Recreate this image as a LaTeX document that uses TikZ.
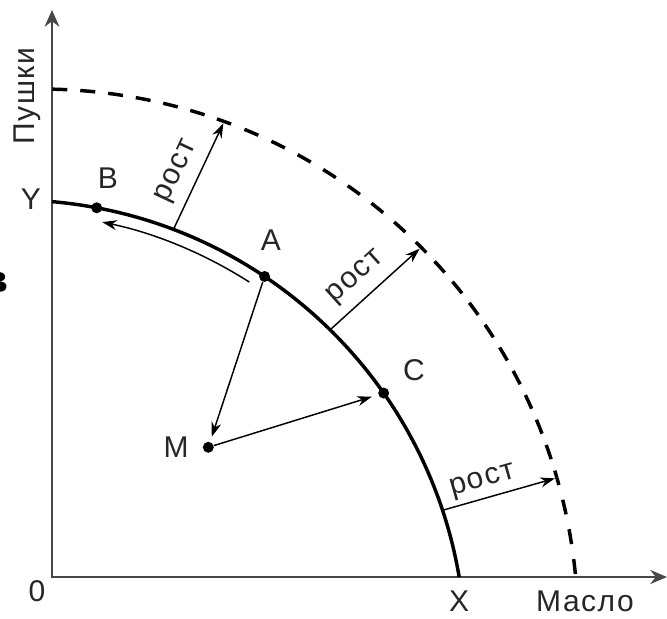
\documentclass[tikz,border=0pt]{standalone}
\usepackage{fontspec}
\setmainfont{Liberation Sans}[LetterSpace=5]
\newfontfamily\serifcyr{Liberation Serif}
\usetikzlibrary{arrows.meta,calc}
\begin{document}
\begin{tikzpicture}[x=0.75pt,y=0.75pt,
  lbl/.style={font=\fontsize{22.5}{27}\selectfont, text=black!85, inner sep=0pt},
  dot/.style={circle, fill=black, inner sep=0pt, minimum size=8.25pt},
  axis/.style={line width=1.9pt, draw=black!72, {Stealth[length=12.5pt,width=11pt]}-{Stealth[length=12.5pt,width=10.5pt]}},
  curve/.style={line width=2.6pt},
  thinarrow/.style={line width=1.1pt, -{Stealth[length=11pt,width=7.5pt]}},
  dsh/.style={line width=2.6pt, dash pattern=on 11.25pt off #1, dash phase=5.625pt},
]
\useasboundingbox (0,0) rectangle (667,618);

% axes
\coordinate (O) at (52,41);
\coordinate (Ytop) at (52,608);
\coordinate (Xend) at (667,41);
\draw[axis] (Ytop) -- (O) -- (Xend);

% centres of the two curves
\coordinate (C1) at (12.6,-34.9);
\coordinate (C2) at (40,-9);

% solid curve
\coordinate (Y) at ($(C1)+(85.01:453)$);
\coordinate (X) at ($(C1)+(9.64:453)$);
\draw[curve] (Y) arc[start angle=85.01, end angle=9.64, radius=453];

% dashed curve (pieces meeting at the arrow tips)
\coordinate (D0) at ($(C2)+(88.72:538)$);
\coordinate (D1) at ($(C2)+(70.0:538)$);
\coordinate (D2) at ($(C2)+(44.9:538)$);
\coordinate (D3) at ($(C2)+(16.1:538)$);
\draw[dsh=9.75pt] (D1) arc[start angle=70.0, end angle=88.72, radius=538];
\draw[dsh=10.85pt] (D1) arc[start angle=70.0, end angle=44.9, radius=538];
\draw[dsh=9.03pt] (D2) arc[start angle=44.9, end angle=16.1, radius=538];
\draw[dsh=11.4pt] (D3) arc[start angle=16.1, end angle=5.33, radius=538];

% points
\node[dot] (B) at ($(C1)+(79.3:453)$) {};
\node[dot] (A) at ($(C1)+(56.2:453)$) {};
\node[dot] (C) at ($(C1)+(35.0:453)$) {};
\node[dot] (M) at (208.3,170.7) {};

% thin arc arrow towards B
\coordinate (T1) at ($(C1)+(57.45:440)$);
\draw[thinarrow] (T1) arc[start angle=57.45, end angle=78.25, radius=440];

% A -> M -> C
\draw[thinarrow, shorten >=4pt] (A) -- (M);
\draw[thinarrow, shorten >=5pt] (M) -- (C);

% growth arrows
\coordinate (g1s) at ($(C1)+(69.2:453)$);
\coordinate (g1e) at ($(C2)+(70.0:536)$);
\coordinate (g2s) at ($(C1)+(45.5:453)$);
\coordinate (g2e) at ($(C2)+(44.9:536)$);
\coordinate (g3s) at ($(C1)+(18.35:453)$);
\coordinate (g3e) at ($(C2)+(16.1:536)$);
\draw[thinarrow] (g1s) -- node[lbl, sloped, pos=.46, anchor=base, yshift=12pt] (r1) {рост} (g1e);
\draw[thinarrow] (g2s) -- node[lbl, sloped, pos=.45, anchor=base, yshift=12pt] (r2) {рост} (g2e);
\draw[thinarrow] (g3s) -- node[lbl, sloped, pos=.40, anchor=base, yshift=8.5pt] (r3) {рост} (g3e);

% labels
\node[lbl, rotate=90] (ylab) at (27,522) {Пушки};
\node[lbl] (lY) at (31,419) {Y};
\node[lbl] (lB) at (108,440) {B};
\node[lbl] (lA) at (271,378) {A};
\node[lbl] (lC) at (414,248) {C};
\node[lbl] (lM) at (176,171) {M};
\node[lbl] (l0) at (37,27) {0};
\node[lbl] (lX) at (459,17) {X};
\node[lbl] (lxlab) at (585,17) {Масло};
\node[font=\serifcyr\bfseries\fontsize{33}{36}\selectfont, anchor=base east, inner sep=0pt] (frag) at (9,325) {в};
\end{tikzpicture}
\end{document}
